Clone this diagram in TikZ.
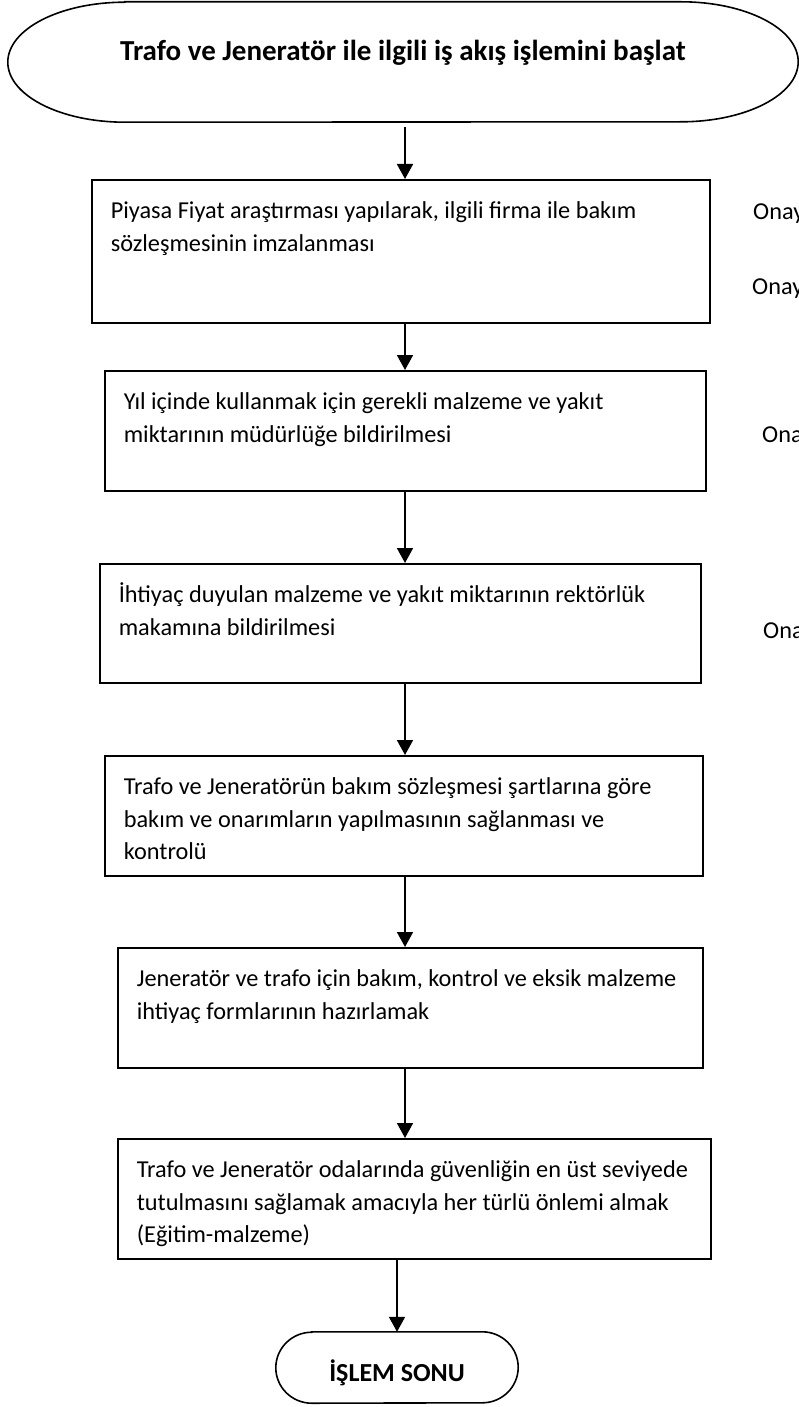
\documentclass[tikz,border=0pt]{standalone}
\usepackage{fontspec}
\setmainfont{Carlito}
\usetikzlibrary{arrows.meta}
\newcommand{\govde}{\fontsize{24.3}{32.5}\selectfont}
\newcommand{\baslik}{\fontsize{29}{32}\selectfont\bfseries}
\newcommand{\sonbaslik}{\fontsize{26}{30}\selectfont\bfseries}
\newcommand{\kutu}[3]{\parbox[c][#2][t]{#1}{\govde\raggedright\leftskip=19pt\rule{0pt}{39pt}#3}}
\newcommand{\ucsekil}[3]{%
  \draw[line width=1.6pt] ([xshift=#2]#1.north west) -- ([xshift=-#2]#1.north east)
    arc[start angle=90, end angle=-90, x radius=#2, y radius=#3]
    -- ([xshift=#2]#1.south west)
    arc[start angle=270, end angle=90, x radius=#2, y radius=#3] -- cycle;}
\tikzset{
  adim/.style={draw, line width=1.6pt, anchor=north west, inner sep=0pt},
  ucnokta/.style={inner sep=0pt},
  onay/.style={anchor=base west, inner sep=0pt, font=\govde},
  ok/.style={line width=1.8pt, -{Triangle[length=15pt,width=16pt]}}
}

\begin{document}
\begin{tikzpicture}[x=1pt, y=-1pt]
  \useasboundingbox (0,0) rectangle (798,1407);
  \coordinate (eksen) at (405,0);

  \node[ucnokta, font=\baslik, minimum width=790pt, minimum height=120pt, text height=10pt, text depth=12pt] (bas) at (403,62)
    {Trafo ve Jeneratör ile ilgili iş akış işlemini başlat};
  \ucsekil{bas}{117pt}{60pt}

  \node[adim] (a1) at (91,179) {\kutu{618pt}{143pt}{Piyasa Fiyat araştırması yapılarak, ilgili firma ile bakım\\sözleşmesinin imzalanması}};
  \node[adim] (a2) at (104,370) {\kutu{601pt}{120pt}{Yıl içinde kullanmak için gerekli malzeme ve yakıt\\miktarının müdürlüğe bildirilmesi}};
  \node[adim] (a3) at (99,563) {\kutu{601pt}{119pt}{İhtiyaç duyulan malzeme ve yakıt miktarının rektörlük\\makamına bildirilmesi}};
  \node[adim] (a4) at (104,755) {\kutu{598pt}{120pt}{Trafo ve Jeneratörün bakım sözleşmesi şartlarına göre\\bakım ve onarımların yapılmasının sağlanması ve\\kontrolü}};
  \node[adim] (a5) at (117,947) {\kutu{585pt}{120pt}{Jeneratör ve trafo için bakım, kontrol ve eksik malzeme\\ihtiyaç formlarının hazırlamak}};
  \node[adim] (a6) at (117,1138) {\kutu{593pt}{120pt}{Trafo ve Jeneratör odalarında güvenliğin en üst seviyede\\tutulmasını sağlamak amacıyla her türlü önlemi almak\\(Eğitim-malzeme)}};

  \node[ucnokta, font=\sonbaslik, minimum width=242pt, minimum height=71pt, text height=36pt, text depth=8pt] (son) at (397,1367.5) {İŞLEM SONU};
  \ucsekil{son}{36pt}{35.5pt}

  \node[onay] (o1) at (753,219) {Onay};
  \node[onay] (o2) at (752,294) {Onay};
  \node[onay] (o3) at (762,442) {Onay};
  \node[onay] (o4) at (763,638) {Onay};

  \draw[ok, shorten <=5pt] (bas.south -| eksen) -- (a1.north -| eksen);
  \foreach \i/\j in {1/2,2/3,3/4,4/5,5/6}
    \draw[ok] (a\i.south -| eksen) -- (a\j.north -| eksen);
  \draw[ok] (a6.south -| son.north) -- (son.north);
\end{tikzpicture}
\end{document}
